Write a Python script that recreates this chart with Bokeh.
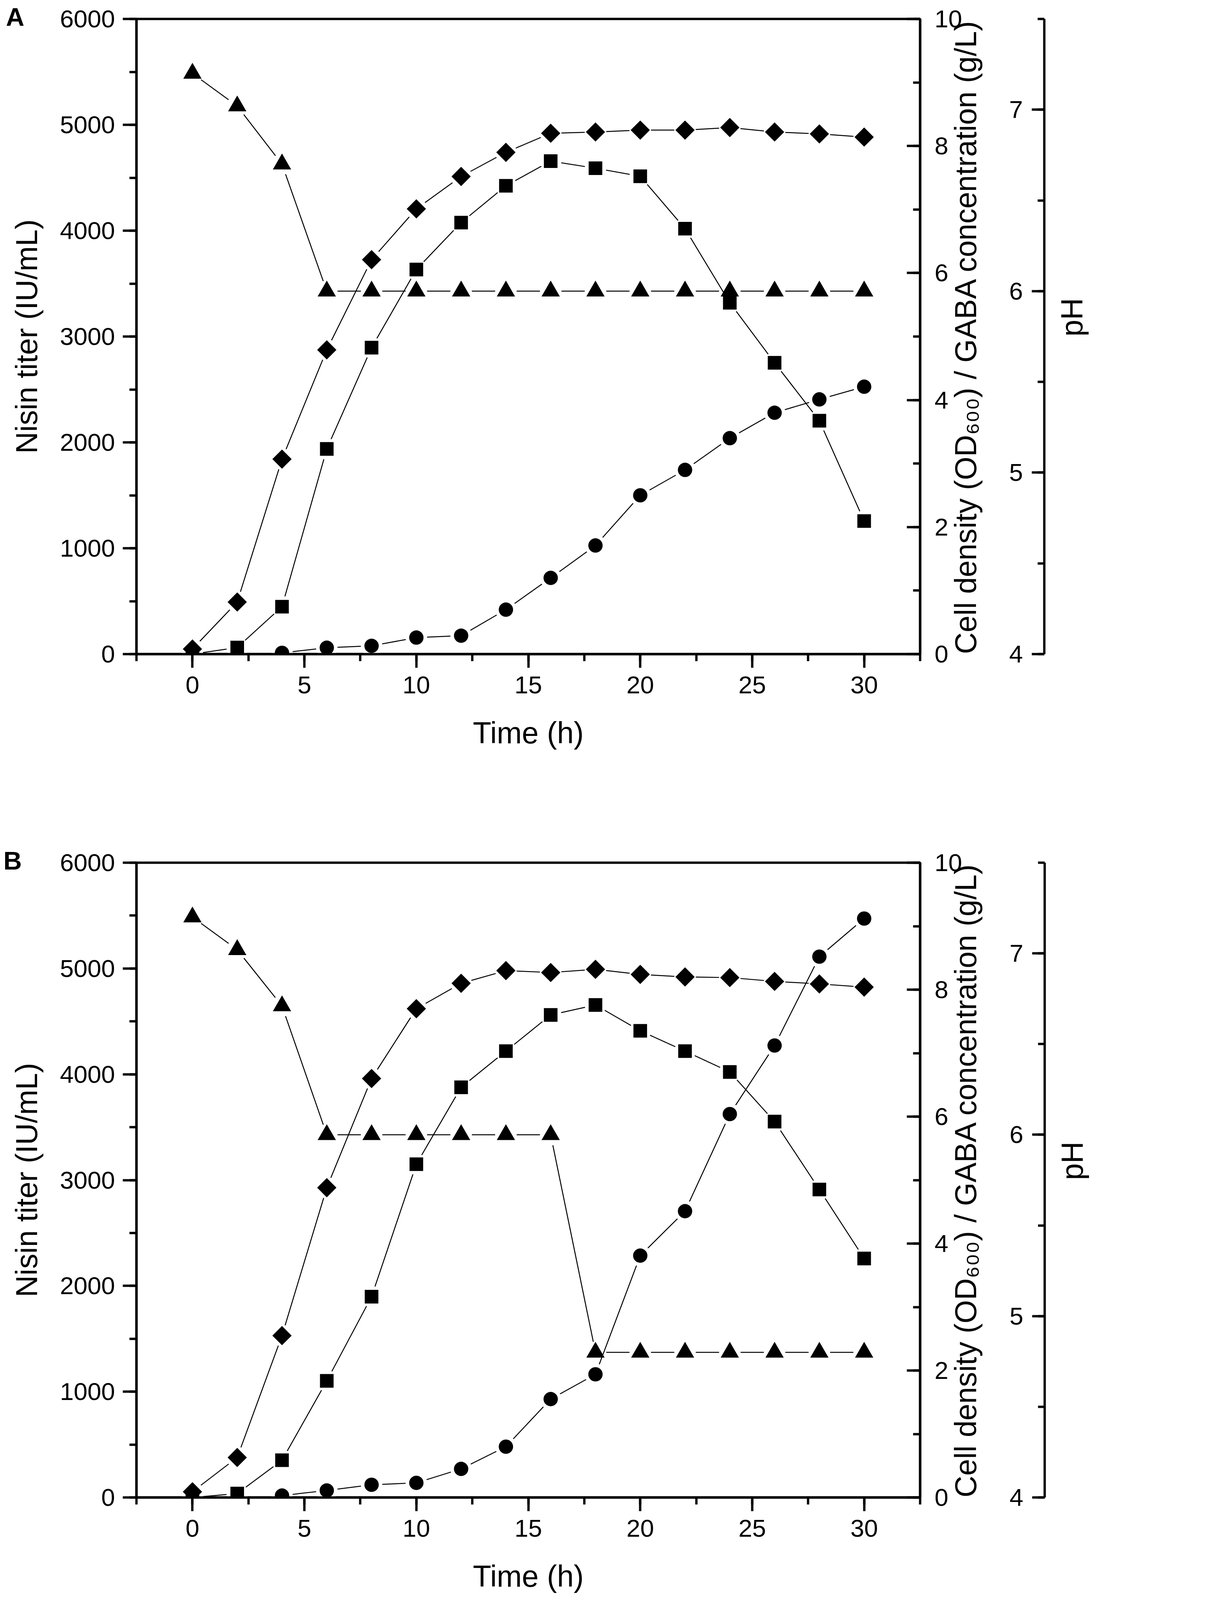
import math
from bokeh.plotting import figure
from bokeh.models import LinearAxis, Range1d, SingleIntervalTicker, FixedTicker, Title
from bokeh.layouts import column
from bokeh.embed import file_html
from bokeh.resources import INLINE

# ---------------- data ----------------
time_h = [0, 2, 4, 6, 8, 10, 12, 14, 16, 18, 20, 22, 24, 26, 28, 30]
gaba_time_h = [4, 6, 8, 10, 12, 14, 16, 18, 20, 22, 24, 26, 28, 30]

# Panel A
nisin_A = [0, 62, 448, 1938, 2895, 3633, 4076, 4424, 4657, 4590, 4514, 4019, 3319, 2752, 2205, 1257]
od_A = [0.08, 0.82, 3.07, 4.79, 6.21, 7.01, 7.52, 7.90, 8.20, 8.22, 8.25, 8.25, 8.29, 8.22, 8.19, 8.14]
gaba_A = [0.02, 0.10, 0.13, 0.26, 0.29, 0.70, 1.20, 1.71, 2.50, 2.90, 3.40, 3.80, 4.01, 4.21]
ph_A = [7.20, 7.02, 6.70, 6.0, 6.0, 6.0, 6.0, 6.0, 6.0, 6.0, 6.0, 6.0, 6.0, 6.0, 6.0, 6.0]

# Panel B
nisin_B = [0, 37, 352, 1102, 1898, 3150, 3877, 4219, 4561, 4655, 4411, 4219, 4022, 3553, 2911, 2259]
od_B = [0.09, 0.63, 2.55, 4.88, 6.60, 7.70, 8.10, 8.30, 8.27, 8.32, 8.24, 8.20, 8.19, 8.13, 8.09, 8.04]
gaba_B = [0.03, 0.11, 0.20, 0.23, 0.45, 0.80, 1.55, 1.94, 3.81, 4.51, 6.04, 7.12, 8.52, 9.12]
ph_B = [7.20, 7.02, 6.71, 6.0, 6.0, 6.0, 6.0, 6.0, 6.0, 4.8, 4.8, 4.8, 4.8, 4.8, 4.8, 4.8]

x_label = "Time (h)"
y_left_label = "Nisin titer (IU/mL)"
y_right_label = "Cell density (OD\u2086\u2080\u2080) / GABA concentration (g/L)"
ph_label = "pH"

# ---------------- style / layout ----------------
# design values are in picture pixels; the page is photographed ~1.089x larger
F = 1.0 / 1.089
FONT = "Liberation Sans"
X0, X1 = -2.5, 32.5


def s(v):
    return v * F


def si(v):
    return int(round(v * F))


def fs(v):
    return "%.1fpx" % (v * F)


LW = s(6.5)


def style_axis(ax, t_in, t_out, m_in, m_out, lab_standoff, title_standoff):
    ax.axis_line_color = "black"
    ax.axis_line_width = LW
    ax.major_tick_line_color = "black"
    ax.major_tick_line_width = LW
    ax.minor_tick_line_color = "black"
    ax.minor_tick_line_width = LW
    ax.major_tick_in = si(t_in)
    ax.major_tick_out = si(t_out)
    ax.minor_tick_in = si(m_in)
    ax.minor_tick_out = si(m_out)
    ax.major_label_text_font = FONT
    ax.major_label_text_font_size = fs(69)
    ax.major_label_text_color = "black"
    ax.major_label_standoff = si(lab_standoff)
    ax.axis_label_text_font = FONT
    ax.axis_label_text_font_size = fs(84)
    ax.axis_label_text_font_style = "normal"
    ax.axis_label_text_color = "black"
    ax.axis_label_standoff = si(title_standoff)


def bottom_up(ax, align):
    try:
        ax.axis_label_orientation = math.pi / 2
        ax.axis_label_align = align
    except Exception:
        pass


PAGE_W = 3104 * F
PAGE_H = 4468 * F
FIG_W = int(round(PAGE_W - 16))
OD_PANEL = 227  # measured width of the OD axis panel, picture pixels


def build(letter, nisin, od, gaba, ph, fig_top_css, fig_h, L, R, T, B, PH):
    # L, R, T, B, PH: frame edges and pH axis position in picture pixels
    fl = s(L) - 8
    fr = s(R) - 8
    ft = s(T) - fig_top_css
    fb = s(B) - fig_top_css
    p = figure(width=FIG_W, height=fig_h, output_backend="svg", toolbar_location=None,
               title=None,
               x_range=Range1d(X0, X1), y_range=Range1d(0, 6000),
               min_border_left=int(round(fl)), min_border_right=int(round(FIG_W - fr)),
               min_border_top=int(round(ft)), min_border_bottom=int(round(fig_h - fb)),
               background_fill_color="white", border_fill_color="white",
               outline_line_color="black", outline_line_width=LW)
    p.extra_y_ranges = {"od": Range1d(0, 10), "ph": Range1d(4, 7.5)}
    p.xgrid.visible = False
    p.ygrid.visible = False

    xa = p.xaxis[0]
    xa.ticker = SingleIntervalTicker(interval=5, num_minor_ticks=2)
    xa.axis_label = x_label
    style_axis(xa, 0, 38, 0, 20, 24, 60)

    ya = p.yaxis[0]
    ya.ticker = SingleIntervalTicker(interval=1000, num_minor_ticks=2)
    ya.axis_label = y_left_label
    style_axis(ya, 0, 38, 0, 20, 22, 42)

    ax_od = LinearAxis(y_range_name="od",
                       ticker=SingleIntervalTicker(interval=2, num_minor_ticks=2),
                       axis_label=y_right_label)
    style_axis(ax_od, 37, 0, 20, 0, 40, 6)
    bottom_up(ax_od, "start")
    p.add_layout(ax_od, "right")

    # invisible spacer so that the pH axis sits at its own position
    pad = (PH - R) - OD_PANEL
    spacer = LinearAxis(y_range_name="od", ticker=FixedTicker(ticks=[5]),
                        axis_line_color=None,
                        major_tick_line_color="white", major_tick_line_width=0.5,
                        minor_tick_line_color=None,
                        major_tick_in=0, major_tick_out=si(pad),
                        minor_tick_in=0, minor_tick_out=0,
                        major_label_text_color=None, major_label_text_font_size="0px",
                        major_label_standoff=0)
    p.add_layout(spacer, "right")

    ax_ph = LinearAxis(y_range_name="ph",
                       ticker=SingleIntervalTicker(interval=1, num_minor_ticks=2),
                       axis_label=ph_label)
    style_axis(ax_ph, 35, 0, 19, 0, -98, 133)
    ax_ph.axis_label_text_line_height = 0.8
    bottom_up(ax_ph, "center")
    p.add_layout(ax_ph, "right")

    # series: triangles (pH), squares (nisin), diamonds (OD), circles (GABA)
    specs = [
        (time_h, ph, "ph", "triangle", 51, 0.0),
        (time_h, nisin, "default", "square", 38, 0.0),
        (time_h, od, "od", "square", 38, math.pi / 4),
        (gaba_time_h, gaba, "od", "circle", 40, 0.0),
    ]
    for xs, ys, rn, mk, sz, ang in specs:
        p.line(xs, ys, y_range_name=rn, line_color="black", line_width=s(2.7))
        p.scatter(xs, ys, y_range_name=rn, marker="circle", size=s(60),
                  fill_color="white", line_color=None)
    for xs, ys, rn, mk, sz, ang in specs:
        p.scatter(xs, ys, y_range_name=rn, marker=mk, size=s(sz), angle=ang,
                  fill_color="black", line_color=None)

    # panel letter, placed in the top border
    p.add_layout(Title(text=letter, align="left", vertical_align="bottom",
                       offset=s(18 - L), standoff=s(-68),
                       text_font=FONT, text_font_size=fs(71), text_font_style="bold",
                       text_color="black"), "above")
    return p


# figure heights: panel B's figure starts where its top border begins
ft_css = s(61) - 8                      # top border of both figures
figB_top = s(2413) - ft_css
H_A = int(round(figB_top - 8))
H_B = int(round(PAGE_H - 8 - figB_top))

pA = build("A", nisin_A, od_A, gaba_A, ph_A, 8.0, H_A, 382, 2586, 61, 1832, 2935)
pB = build("B", nisin_B, od_B, gaba_B, ph_B, 8.0 + H_A, H_B, 389, 2592, 2413, 4183, 2942)

layout = column(pA, pB, spacing=0)
open("out.html", "w").write(file_html(layout, INLINE))
